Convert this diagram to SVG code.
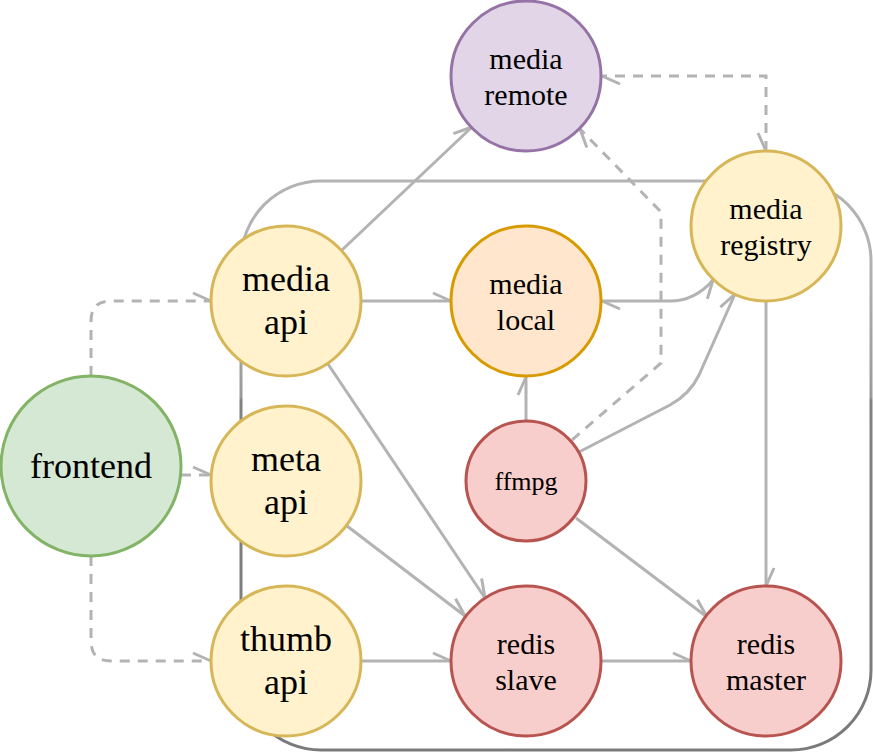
<svg xmlns="http://www.w3.org/2000/svg" width="873" height="753" viewBox="0 0 873 753">
<style>
.edge{fill:none;stroke:#b3b3b3;stroke-width:3}
.dash{stroke-dasharray:10 8}
.yellow circle{fill:#fff2cc;stroke:#d6b656;stroke-width:3}
.red circle{fill:#f8cecc;stroke:#b85450;stroke-width:3}
</style>
<defs>
<linearGradient id="frame" gradientUnits="userSpaceOnUse" x1="0" y1="181" x2="0" y2="750">
<stop offset="0" stop-color="#b3b3b3"/>
<stop offset="0.13" stop-color="#b3b3b3"/>
<stop offset="0.38" stop-color="#9a9a9a"/>
<stop offset="0.385" stop-color="#828282"/>
<stop offset="1" stop-color="#7a7a7a"/>
</linearGradient>
<marker id="arrEnd" markerUnits="userSpaceOnUse" viewBox="-22 -12 26 24" refX="0" refY="0" markerWidth="26" markerHeight="24" orient="auto" overflow="visible">
<path d="M-18,-8 L0,0" fill="none" stroke="#b3b3b3" stroke-width="3"/>
</marker>
<marker id="arrStart" markerUnits="userSpaceOnUse" viewBox="-4 -12 26 24" refX="0" refY="0" markerWidth="26" markerHeight="24" orient="auto" overflow="visible">
<path d="M18,-8 L0,0" fill="none" stroke="#b3b3b3" stroke-width="3"/>
</marker>
</defs>

<rect id="frame-box" x="241" y="181" width="630" height="569" rx="80" ry="80" fill="none" stroke="url(#frame)" stroke-width="3"/>

<g id="connectors">
<path class="edge dash" d="M91,376 V321 Q91,301 111,301 H211" marker-end="url(#arrEnd)"/>
<path class="edge dash" d="M181,475 H211" marker-end="url(#arrEnd)"/>
<path class="edge dash" d="M91,556 V641 Q91,661 111,661 H211" marker-end="url(#arrEnd)"/>
<path class="edge" d="M361,301 H451" marker-end="url(#arrEnd)"/>
<path class="edge" d="M342,250 L472,127" marker-end="url(#arrEnd)"/>
<path class="edge" d="M328,364 L485,598" marker-end="url(#arrEnd)"/>
<path class="edge" d="M347,526 L465,616" marker-end="url(#arrEnd)"/>
<path class="edge" d="M361,661 H451" marker-end="url(#arrEnd)"/>
<path class="edge" d="M601,661 H691" marker-end="url(#arrEnd)"/>
<path class="edge" d="M576,518 L707,617" marker-end="url(#arrEnd)"/>
<path class="edge" d="M526,421 V377" marker-end="url(#arrEnd)"/>
<path class="edge dash" d="M572,440 L661,363 V212 L580,129" marker-end="url(#arrEnd)"/>
<path class="edge" d="M579,452 L670,405 Q690,394 699,375 L735,294" marker-end="url(#arrEnd)"/>
<path class="edge" d="M713,280 Q695,301 670,301 H602" marker-start="url(#arrStart)" marker-end="url(#arrEnd)"/>
<path class="edge dash" d="M766,151 V76 H602" marker-start="url(#arrStart)" marker-end="url(#arrEnd)"/>
<path class="edge" d="M766,301 V586" marker-end="url(#arrEnd)"/>
</g>

<g font-family="Liberation Serif, DejaVu Serif, serif" text-anchor="middle" fill="#000">
<g id="media-remote" font-size="30">
<circle cx="526" cy="76" r="75" fill="#e1d5e7" stroke="#9673a6" stroke-width="3"/>
<text x="526" y="68.5">media</text>
<text x="526" y="104.5">remote</text>
</g>
<g id="media-api" class="yellow" font-size="36">
<circle cx="286" cy="301" r="75"/>
<text x="286" y="291">media</text>
<text x="286" y="334">api</text>
</g>
<g id="media-local" font-size="30">
<circle cx="526" cy="301" r="75" fill="#ffe6cc" stroke="#d79b00" stroke-width="3"/>
<text x="526" y="293.5">media</text>
<text x="526" y="329.5">local</text>
</g>
<g id="media-registry" class="yellow" font-size="30">
<circle cx="766" cy="226" r="75"/>
<text x="766" y="218.5">media</text>
<text x="766" y="254.5">registry</text>
</g>
<g id="frontend" font-size="36">
<circle cx="91" cy="466" r="90" fill="#d5e8d4" stroke="#82b366" stroke-width="3"/>
<text x="91" y="478">frontend</text>
</g>
<g id="meta-api" class="yellow" font-size="36">
<circle cx="286" cy="481" r="75"/>
<text x="286" y="471">meta</text>
<text x="286" y="514">api</text>
</g>
<g id="ffmpg" class="red" font-size="26">
<circle cx="526" cy="481" r="60"/>
<text x="526" y="490">ffmpg</text>
</g>
<g id="thumb-api" class="yellow" font-size="36">
<circle cx="286" cy="661" r="75"/>
<text x="286" y="651">thumb</text>
<text x="286" y="694">api</text>
</g>
<g id="redis-slave" class="red" font-size="30">
<circle cx="526" cy="661" r="75"/>
<text x="526" y="653.5">redis</text>
<text x="526" y="689.5">slave</text>
</g>
<g id="redis-master" class="red" font-size="30">
<circle cx="766" cy="661" r="75"/>
<text x="766" y="653.5">redis</text>
<text x="766" y="689.5">master</text>
</g>
</g>
</svg>
